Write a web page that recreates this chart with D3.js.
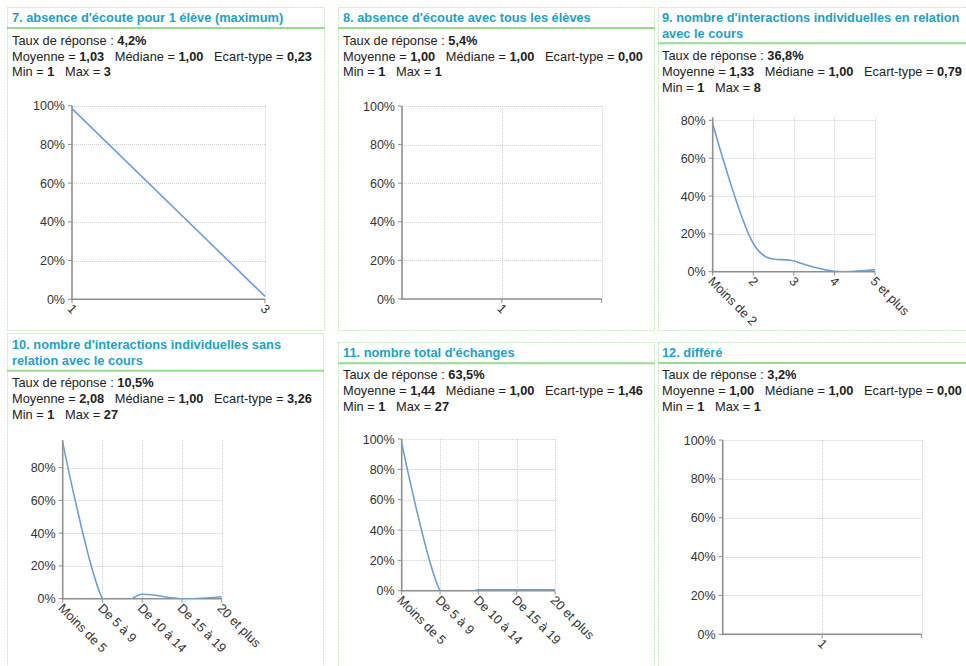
<!DOCTYPE html>
<html>
<head>
<meta charset="utf-8">
<script src="https://cdn.jsdelivr.net/npm/d3@7"></script>
<style>
  html, body { margin: 0; padding: 0; background: #fff; }
  svg { display: block; font-family: "Liberation Sans", Arial, Helvetica, sans-serif; }
  text { white-space: pre; }
</style>
</head>
<body>
<svg id="chart" width="966" height="666"></svg>
<script>
// ---- Question titles ----
const titles = [
  ["7. absence d'écoute pour 1 élève (maximum)"],
  ["8. absence d'écoute avec tous les élèves"],
  ["9. nombre d'interactions individuelles en relation", "avec le cours"],
  ["10. nombre d'interactions individuelles sans", "relation avec le cours"],
  ["11. nombre total d'échanges"],
  ["12. différé"]
];

// ---- Summary statistics per question ----
const responseRates = ["4,2%", "5,4%", "36,8%", "10,5%", "63,5%", "3,2%"];
const means        = ["1,03", "1,00", "1,33", "2,08", "1,44", "1,00"];
const medians      = ["1,00", "1,00", "1,00", "1,00", "1,00", "1,00"];
const stdDevs      = ["0,23", "0,00", "0,79", "3,26", "1,46", "0,00"];
const mins         = ["1", "1", "1", "1", "1", "1"];
const maxs         = ["3", "1", "8", "27", "27", "1"];

// ---- Distribution categories and shares (%) ----
const q7Categories  = ["1", "3"];
const q7Values      = [98.5, 1.5];
const q8Categories  = ["1"];
const q8Values      = [100];
const q9Categories  = ["Moins de 2", "2", "3", "4", "5 et plus"];
const q9Values      = [78.2, 14.9, 5.6, 0.2, 1.1];
const q10Categories = ["Moins de 5", "De 5 à 9", "De 10 à 14", "De 15 à 19", "20 et plus"];
const q10Values     = [95.5, 0, 2.7, 0, 1.2];
const q11Categories = ["Moins de 5", "De 5 à 9", "De 10 à 14", "De 15 à 19", "20 et plus"];
const q11Values     = [97.4, 0, 0.6, 0.6, 0.6];
const q12Categories = ["1"];
const q12Values     = [100];

// ---- Y axis ----
const yTickValues = [0, 20, 40, 60, 80, 100];
const yMaxima     = [100, 100, 81.6, 96.9, 100, 100];

const categoriesList = [q7Categories, q8Categories, q9Categories, q10Categories, q11Categories, q12Categories];
const valuesList     = [q7Values, q8Values, q9Values, q10Values, q11Values, q12Values];

// ---- Panel layout ----
const layout = [
  { box: [7, 7, 317, 323],   titleY: [22], rule: 28,       textX: 12,  statsY: [45, 61, 76],         plot: [72, 265, 105.7, 299.3] },
  { box: [338, 7, 316, 323], titleY: [22], rule: 28,       textX: 343, statsY: [44.8, 60.5, 76],     plot: [402, 601.7, 106, 299] },
  { box: [658, 7, 316, 323], titleY: [22, 37.5], rule: 43.3, textX: 662, statsY: [60, 76, 91.5],     plot: [712.7, 875, 117.3, 271.7] },
  { box: [7, 333, 316, 340], titleY: [349, 364.5], rule: 370.7, textX: 12, statsY: [387.3, 403.3, 419], plot: [62.7, 221.7, 440, 598.7] },
  { box: [338, 342, 316, 330], titleY: [357], rule: 363.3, textX: 343, statsY: [379.3, 395.3, 411],  plot: [401.7, 555, 439, 590.7] },
  { box: [658, 342, 316, 330], titleY: [357], rule: 363,   textX: 662, statsY: [379.3, 395.3, 411],  plot: [722.7, 921.7, 440, 634.3] }
];

const titleColor = "#19a3c9";
const textColor = "#222";
const lineColor = "#6a9fd9";
const bodySize = 12.8;

const svg = d3.select("#chart");
const defs = svg.append("defs");

layout.forEach((L, i) => {
  const g = svg.append("g").attr("class", "panel");
  const [bx, by, bw, bh] = L.box;

  // panel frame
  g.append("rect")
    .attr("x", bx + 0.5).attr("y", by + 0.5)
    .attr("width", bw).attr("height", bh)
    .attr("fill", "#fff")
    .attr("stroke", "#c3ebb9").attr("stroke-width", 1)
    .attr("stroke-dasharray", "2,1");

  // title
  titles[i].forEach((t, k) => {
    g.append("text")
      .attr("x", L.textX).attr("y", L.titleY[k])
      .attr("fill", titleColor)
      .attr("font-size", bodySize).attr("font-weight", "bold")
      .text(t);
  });
  g.append("line")
    .attr("x1", bx).attr("x2", bx + bw + 1)
    .attr("y1", L.rule).attr("y2", L.rule)
    .attr("stroke", "#96dc8c").attr("stroke-width", 2);

  // statistics
  const statLines = [
    [["Taux de réponse : ", false], [responseRates[i], true]],
    [["Moyenne = ", false], [means[i], true], ["   Médiane = ", false], [medians[i], true],
     ["   Ecart-type = ", false], [stdDevs[i], true]],
    [["Min = ", false], [mins[i], true], ["   Max = ", false], [maxs[i], true]]
  ];
  statLines.forEach((parts, k) => {
    const t = g.append("text")
      .attr("x", L.textX).attr("y", L.statsY[k])
      .attr("xml:space", "preserve")
      .attr("fill", textColor).attr("font-size", bodySize);
    parts.forEach(([s, b]) => {
      t.append("tspan").attr("font-weight", b ? "bold" : "normal").text(s);
    });
  });

  // scales
  const [left, right, top, bottom] = L.plot;
  const cats = categoriesList[i];
  const vals = valuesList[i];
  const x = d3.scalePoint().domain(cats).range([left, right]).padding(0);
  const y = d3.scaleLinear().domain([0, yMaxima[i]]).range([bottom, top]);
  const ticks = yTickValues.filter(v => v <= yMaxima[i]);

  // grid
  const grid = g.append("g").attr("stroke", "#cfcfcf").attr("stroke-width", 1)
    .attr("stroke-dasharray", "1,1");
  ticks.filter(v => v > 0).forEach(v => {
    grid.append("line")
      .attr("x1", left).attr("x2", right)
      .attr("y1", Math.round(y(v)) + 0.5).attr("y2", Math.round(y(v)) + 0.5);
  });
  const vx = cats.map(c => x(c)).filter(p => p > left + 1);
  if (vx[vx.length - 1] < right - 1) vx.push(right);
  vx.forEach(p => {
    grid.append("line")
      .attr("x1", Math.round(p) + 0.5).attr("x2", Math.round(p) + 0.5)
      .attr("y1", top).attr("y2", bottom);
  });

  // axes
  const axisColor = "#8e8e8e";
  g.append("line").attr("x1", left).attr("x2", left).attr("y1", top).attr("y2", bottom + 1)
    .attr("stroke", axisColor).attr("stroke-width", 1.6);
  g.append("line").attr("x1", left).attr("x2", right).attr("y1", bottom).attr("y2", bottom)
    .attr("stroke", axisColor).attr("stroke-width", 1.6);

  ticks.forEach(v => {
    g.append("line").attr("x1", left - 4).attr("x2", left).attr("y1", y(v)).attr("y2", y(v))
      .attr("stroke", axisColor).attr("stroke-width", 1);
    g.append("text")
      .attr("x", left - 7).attr("y", y(v)).attr("dy", "0.36em")
      .attr("text-anchor", "end").attr("font-size", 12.5).attr("fill", "#333")
      .text(v + "%");
  });

  const xt = cats.map(c => x(c));
  if (xt[xt.length - 1] < right - 1) xt.push(right);
  xt.forEach(p => {
    g.append("line").attr("x1", p).attr("x2", p).attr("y1", bottom).attr("y2", bottom + 4)
      .attr("stroke", axisColor).attr("stroke-width", 1);
  });

  // distribution curve, clipped to the plot area
  const clipId = "clip" + i;
  defs.append("clipPath").attr("id", clipId)
    .append("rect").attr("x", left).attr("y", top - 3)
    .attr("width", right - left + 2).attr("height", bottom - top + 3);
  const line = d3.line()
    .x((d, k) => x(cats[k]))
    .y(d => y(d))
    .curve(d3.curveCardinal.tension(0));
  g.append("path")
    .datum(vals)
    .attr("clip-path", `url(#${clipId})`)
    .attr("d", line)
    .attr("fill", "none")
    .attr("stroke", lineColor).attr("stroke-width", 1.6);

  // slanted category labels
  cats.forEach(c => {
    g.append("g")
      .attr("transform", `translate(${x(c)},${bottom}) rotate(45)`)
      .append("text")
      .attr("x", 3.5).attr("y", 11)
      .attr("font-size", 12.8).attr("fill", "#333")
      .text(c);
  });
});
</script>
</body>
</html>
